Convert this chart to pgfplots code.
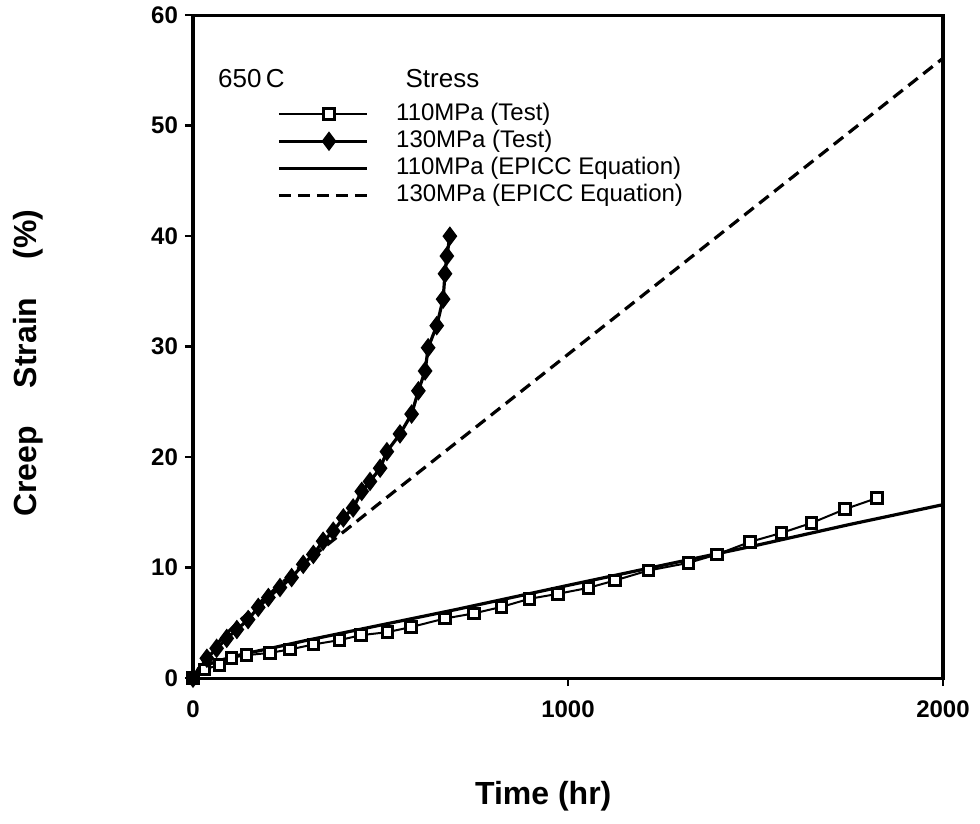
\documentclass[border=0pt]{standalone}
\usepackage{fontspec}
\setmainfont{Liberation Sans}
\usepackage{pgfplots}
\pgfplotsset{compat=1.18}

\begin{document}
\begin{tikzpicture}
\begin{axis}[
    scale only axis,
    width=375pt, height=331.5pt,
    xmin=0, xmax=2000, ymin=0, ymax=60,
    xtick={0,1000,2000},
    ytick={0,10,20,30,40,50,60},
    xtick pos=bottom, ytick pos=left,
    tick align=outside,
    major tick length=4pt,
    tick style={black, line width=1.3pt},
    axis line style={line width=1.6pt},
    /pgf/number format/assume math mode=true,
    /pgf/number format/1000 sep={},
    ticklabel style={font=\bfseries\fontsize{12}{14}\selectfont},
    xticklabel style={yshift=-4pt},
    xlabel={Time (hr)},
    ylabel={Creep\hspace{19pt}Strain\hspace{19pt}(\%)},
    xlabel style={font=\bfseries\fontsize{16}{18}\selectfont, at={(axis description cs:0.467,-0.178)}, anchor=center},
    ylabel style={font=\bfseries\fontsize{16}{18}\selectfont, at={(axis description cs:-0.22,0.475)}, anchor=center},
    clip=false,
    legend style={at={(rel axis cs:0.112,0.872)}, anchor=north west, draw=none, fill=none,
        inner sep=0pt, row sep=0pt,
        font=\fontsize{12}{14}\selectfont,
        nodes={text height=9pt, text depth=3pt, inner sep=0.8pt},
        /tikz/every odd column/.append style={column sep=13pt}},
    legend cell align=left,
    legend image code/.code={\draw[mark repeat=2,mark phase=2,#1] plot coordinates {(0pt,0pt) (25pt,0pt) (44pt,0pt)};},
]
% 110 MPa test
\addplot[black, line width=1pt, mark=square*, mark size=2.6pt,
    mark options={solid, fill=white, draw=black, line width=1.5pt}] coordinates {
    (0,0) (30,0.8) (70,1.18) (103,1.84) (143,2.08) (205,2.29) (259,2.6)
    (321,3.05) (390,3.44) (448,3.89) (518,4.16) (581,4.62) (672,5.4)
    (749,5.86) (823,6.45) (897,7.18) (973,7.63) (1054,8.17) (1125,8.84)
    (1214,9.74) (1321,10.43) (1397,11.19) (1485,12.33) (1570,13.15)
    (1650,14.05) (1739,15.3) (1824,16.3)
};
% 130 MPa test
\addplot[black, line width=1.6pt, mark=diamond*, mark size=3.6pt,
    mark options={solid, fill=black}] coordinates {
    (0,0) (37,1.8) (63,2.7) (90,3.6) (117,4.4) (147,5.3) (174,6.4)
    (201,7.3) (232,8.2) (263,9.1) (294,10.3) (321,11.2) (347,12.4)
    (374,13.3) (401,14.5) (427,15.4) (450,16.9) (472,17.8) (499,19.0)
    (517,20.5) (552,22.1) (583,23.9) (601,26.0) (619,27.8) (627,29.9)
    (650,31.9) (667,34.3) (672,36.6) (677,38.2) (685,40.0)
};
% 110 MPa EPICC equation
\addplot[black, line width=1.6pt, no marks] coordinates {
    (0,0) (10,0.55) (25,0.95) (50,1.35) (100,1.9) (150,2.3) (200,2.65)
    (300,3.4) (500,4.8) (700,6.2) (1000,8.4) (1250,10.2) (1500,12.0)
    (1750,13.9) (2000,15.7)
};
% 130 MPa EPICC equation
\addplot[black, line width=1.6pt, no marks, dash pattern=on 6pt off 3.5pt] coordinates {
    (0,0) (25,1.5) (50,2.6) (100,4.4) (150,6.0) (200,7.5) (250,9.0)
    (300,10.5) (500,15.9) (1000,29.3) (1500,42.7) (2000,56.1)
};
\legend{110MPa (Test), 130MPa (Test), 110MPa (EPICC Equation), 130MPa (EPICC Equation)}
\node[anchor=west, font=\fontsize{13}{15}\selectfont, inner sep=0pt] at (rel axis cs:0.033,0.905) {650\,C};
\node[anchor=west, font=\fontsize{13}{15}\selectfont, inner sep=0pt] at (rel axis cs:0.283,0.905) {Stress};
% page margins as in the reference
\path (rel axis cs:0,0) ++(-96.5pt,-72.5pt) coordinate (bbsw);
\path (rel axis cs:1,1) ++(18.5pt,7pt) coordinate (bbne);
\path (bbsw) rectangle (bbne);
\end{axis}
\end{tikzpicture}
\end{document}
